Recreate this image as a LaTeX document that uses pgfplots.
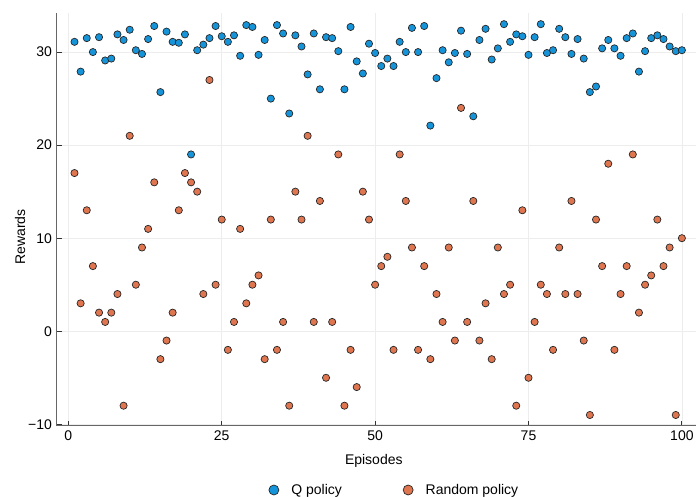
\documentclass[border=0pt]{standalone}
\usepackage{fontspec}
\setmainfont{Liberation Sans}
\usepackage{pgfplots}
\usepackage{pgfplotstable}
\pgfplotsset{compat=1.18}
\definecolor{qblue}{RGB}{22,148,218}
\definecolor{rorange}{RGB}{224,118,80}
\pgfplotstableread{
ep q
1 31.1
2 27.9
3 31.5
4 30.0
5 31.6
6 29.1
7 29.3
8 31.9
9 31.3
10 32.4
11 30.2
12 29.8
13 31.4
14 32.8
15 25.7
16 32.2
17 31.1
18 31.0
19 31.9
20 19.0
21 30.2
22 30.8
23 31.5
24 32.8
25 31.7
26 31.1
27 31.8
28 29.6
29 32.9
30 32.7
31 29.7
32 31.3
33 25.0
34 32.9
35 32.0
36 23.4
37 31.8
38 30.6
39 27.6
40 32.0
41 26.0
42 31.6
43 31.5
44 30.1
45 26.0
46 32.7
47 29.0
48 27.7
49 30.9
50 29.9
51 28.5
52 29.3
53 28.5
54 31.1
55 30.0
56 32.6
57 30.0
58 32.8
59 22.1
60 27.2
61 30.2
62 28.9
63 29.9
64 32.3
65 29.8
66 23.1
67 31.3
68 32.5
69 29.2
70 30.4
71 33.0
72 31.1
73 31.9
74 31.7
75 29.7
76 31.6
77 33.0
78 29.9
79 30.2
80 32.5
81 31.6
82 29.8
83 31.4
84 29.3
85 25.7
86 26.3
87 30.4
88 31.3
89 30.4
90 29.6
91 31.5
92 32.0
93 27.9
94 30.1
95 31.5
96 31.8
97 31.4
98 30.6
99 30.1
100 30.2
}\qtable
\pgfplotstableread{
ep r
1 17
2 3
3 13
4 7
5 2
6 1
7 2
8 4
9 -8
10 21
11 5
12 9
13 11
14 16
15 -3
16 -1
17 2
18 13
19 17
20 16
21 15
22 4
23 27
24 5
25 12
26 -2
27 1
28 11
29 3
30 5
31 6
32 -3
33 12
34 -2
35 1
36 -8
37 15
38 12
39 21
40 1
41 14
42 -5
43 1
44 19
45 -8
46 -2
47 -6
48 15
49 12
50 5
51 7
52 8
53 -2
54 19
55 14
56 9
57 -2
58 7
59 -3
60 4
61 1
62 9
63 -1
64 24
65 1
66 14
67 -1
68 3
69 -3
70 9
71 4
72 5
73 -8
74 13
75 -5
76 1
77 5
78 4
79 -2
80 9
81 4
82 14
83 4
84 -1
85 -9
86 12
87 7
88 18
89 -2
90 4
91 7
92 19
93 2
94 5
95 6
96 12
97 7
98 9
99 -9
100 10
}\rtable
\begin{document}
\fontsize{14}{17}\selectfont
\begin{tikzpicture}[x=1pt,y=1pt]
\path[use as bounding box] (0,0) rectangle (696,497);
\begin{axis}[
  at={(56.7pt,71.3pt)}, anchor=south west,
  scale only axis, width=639.3pt, height=412.7pt,
  xmin=-1.9, xmax=102.3, ymin=-10.15, ymax=34.2,
  axis x line=bottom, axis y line=left,
  axis line style={-, black!60, line width=1pt},
  xtick={0,25,50,75,100}, ytick={-10,0,10,20,30},
  yticklabels={−10,0,10,20,30},
  /pgf/number format/assume math mode=true,
  tick align=inside, major tick length=5pt,
  tick style={black!80, line width=0.8pt},
  grid=major, grid style={black!7, line width=0.6pt},
  xlabel={Episodes}, ylabel={Rewards},
  xlabel style={at={(axis description cs:0.496,-0.0848)}, anchor=center},
  ylabel style={at={(axis description cs:-0.0574,0.457)}, anchor=center, rotate=0},
  legend columns=2,
  legend style={at={(axis description cs:0.526,-0.1558)}, anchor=center,
    draw=none, fill=none,
    /tikz/every odd column/.append style={column sep=7.3pt},
    /tikz/every even column/.append style={column sep=56pt}},
  legend image code/.code={\path (0pt,0pt) (16pt,0pt); \draw[#1, mark size=5pt] plot coordinates {(8pt,0pt)};},
]
\addplot[only marks, mark=*, mark size=3.6pt, mark options={fill=qblue, draw=black!85, line width=0.7pt}] table[x=ep, y=q] {\qtable};
\addlegendentry{Q policy}
\addplot[only marks, mark=*, mark size=3.6pt, mark options={fill=rorange, draw=black!85, line width=0.7pt}] table[x=ep, y=r] {\rtable};
\addlegendentry{Random policy}
\end{axis}
\end{tikzpicture}
\end{document}
